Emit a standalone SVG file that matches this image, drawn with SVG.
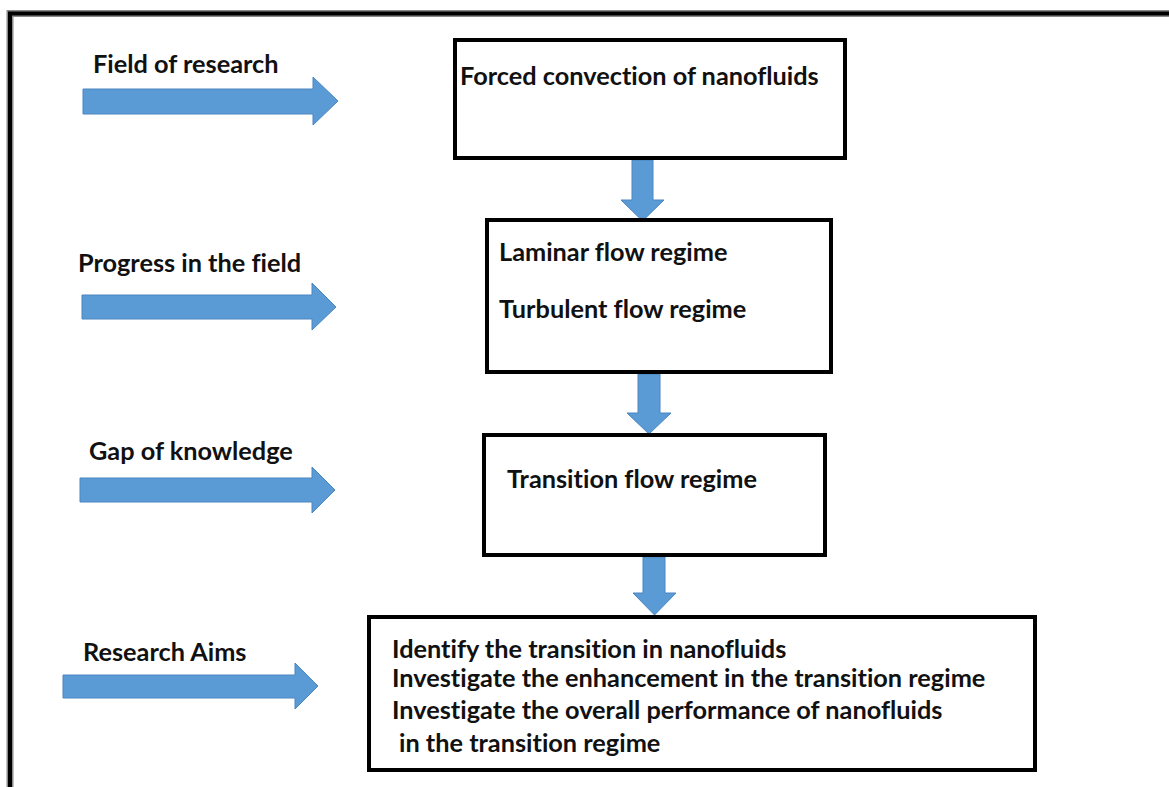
<svg xmlns="http://www.w3.org/2000/svg" width="1169" height="787" viewBox="0 0 1169 787">
<style>
.t{font-family:Lato,"Open Sans","Liberation Sans",sans-serif;font-weight:700;font-size:25.3px;fill:#111;font-variant-ligatures:none}
.box{fill:#fff;stroke:#000;stroke-width:4}
.arr{fill:#5B9BD5;stroke:#4A86C0;stroke-width:1}
</style>
<rect width="1169" height="787" fill="#fff"/>
<g id="frame" fill="none">
<path d="M10,787 V13.5 H1169" stroke="#8a8a8a" stroke-width="7"/>
<path d="M10,787 V13.5 H1169" stroke="#000" stroke-width="4"/>
</g>
<g id="labels">
<g id="lbl-field"><text class="t" x="93" y="73">Field of research</text><polygon class="arr" points="83,89 313,89 313,77 338,101 313,125 313,114 83,114"/></g>
<g id="lbl-progress"><text class="t" x="78" y="272">Progress in the field</text><polygon class="arr" points="82,295 312,295 312,283 336,307 312,330 312,319 82,319"/></g>
<g id="lbl-gap"><text class="t" x="89" y="460">Gap of knowledge</text><polygon class="arr" points="80,478 312,478 312,467 335,490 312,513 312,502 80,502"/></g>
<g id="lbl-aims"><text class="t" x="83" y="661">Research Aims</text><polygon class="arr" points="63,675 295,675 295,663 318,686 295,709 295,698 63,698"/></g>
</g>
<g id="connectors">
<polygon class="arr" points="632,160 653,160 653,200 664,200 642.5,221 621,200 632,200"/>
<polygon class="arr" points="638,374 660,374 660,413 671,413 649,434 627,413 638,413"/>
<polygon class="arr" points="643,557 665,557 665,593 676,593 654.5,615 633,593 643,593"/>
</g>
<g id="node-forced"><rect class="box" x="455" y="40" width="390" height="118"/><text class="t" x="460" y="85">Forced convection of nanofluids</text></g>
<g id="node-progress"><rect class="box" x="487" y="220" width="344" height="152"/><text class="t" x="499" y="261">Laminar flow regime</text><text class="t" x="499" y="318">Turbulent flow regime</text></g>
<g id="node-gap"><rect class="box" x="484" y="435" width="341" height="120"/><text class="t" x="507" y="488">Transition flow regime</text></g>
<g id="node-aims"><rect class="box" x="369" y="617" width="666" height="153"/>
<text class="t" x="392" y="658">Identify the transition in nanofluids</text>
<text class="t" x="392" y="687">Investigate the enhancement in the transition regime</text>
<text class="t" x="392" y="719">Investigate the overall performance of nanofluids</text>
<text class="t" x="399" y="752">in the transition regime</text>
</g>
</svg>
